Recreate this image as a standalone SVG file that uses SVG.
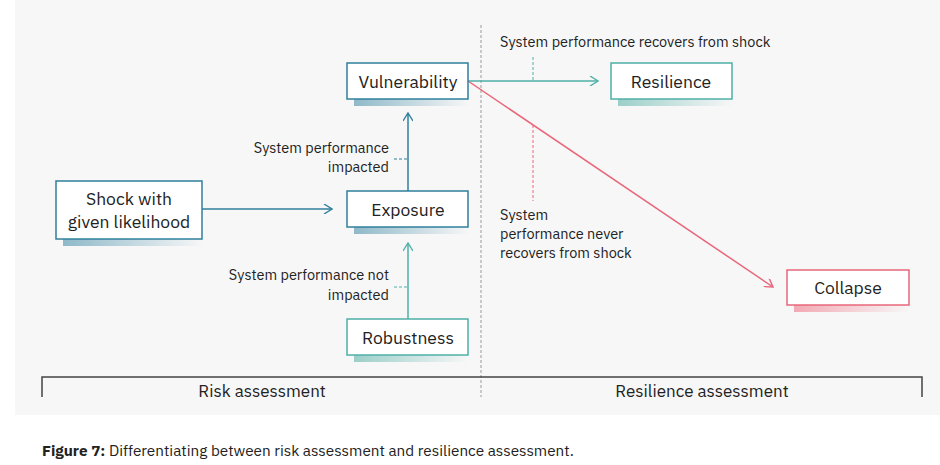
<svg xmlns="http://www.w3.org/2000/svg" width="940" height="465" viewBox="0 0 940 465">
<defs>
<linearGradient id="gb" x1="0" x2="1"><stop offset="0" stop-color="#8fb9c9"/><stop offset="1" stop-color="#8fb9c9" stop-opacity="0"/></linearGradient>
<linearGradient id="gt" x1="0" x2="1"><stop offset="0" stop-color="#9ccfc9"/><stop offset="1" stop-color="#9ccfc9" stop-opacity="0"/></linearGradient>
<linearGradient id="gp" x1="0" x2="1"><stop offset="0" stop-color="#f2aab4"/><stop offset="1" stop-color="#f2aab4" stop-opacity="0"/></linearGradient>
<marker id="ab" viewBox="0 0 10 10" refX="9" refY="5" markerWidth="10" markerHeight="10" markerUnits="userSpaceOnUse" orient="auto"><path d="M1,0 L9,5 L1,10" fill="none" stroke="#2f7f9c" stroke-width="1.4"/></marker>
<marker id="at" viewBox="0 0 10 10" refX="9" refY="5" markerWidth="10" markerHeight="10" markerUnits="userSpaceOnUse" orient="auto"><path d="M1,0 L9,5 L1,10" fill="none" stroke="#4fb0a8" stroke-width="1.4"/></marker>
<marker id="ap" viewBox="0 0 10 10" refX="9" refY="5" markerWidth="10" markerHeight="10" markerUnits="userSpaceOnUse" orient="auto"><path d="M1,0 L9,5 L1,10" fill="none" stroke="#e8677a" stroke-width="1.4"/></marker>
</defs>
<style>
text{font-family:"IBM Plex Sans","Liberation Sans",Arial,sans-serif;fill:#222}
.n{font-size:17.5px;text-anchor:middle}
.l{font-size:14.5px}
.r{text-anchor:end}
.b{fill:#fff;stroke:#2f7f9c;stroke-width:1.5}
.t{fill:#fff;stroke:#4fb0a8;stroke-width:1.5}
.p{fill:#fff;stroke:#e8677a;stroke-width:1.5}
.cb{stroke:#2f7f9c;stroke-width:1.5;fill:none}
.ct{stroke:#4fb0a8;stroke-width:1.5;fill:none}
.cp{stroke:#e8677a;stroke-width:1.5;fill:none}
.d{stroke-dasharray:3,2;stroke-width:1}
</style>
<rect x="0" y="0" width="940" height="465" fill="#fff"/>
<rect x="15" y="0" width="925" height="415" fill="#f7f7f7"/>
<line x1="481" y1="25" x2="481" y2="397" stroke="#999" stroke-width="1" stroke-dasharray="3,2"/>
<g id="axis" stroke="#444" stroke-width="1.5" fill="none">
<path d="M42,397 V377 H922 V397"/>
</g>
<text x="262" y="397" class="n" style="font-size:17px">Risk assessment</text>
<text x="702" y="397" class="n" style="font-size:17px">Resilience assessment</text>
<g id="connectors">
<line x1="202" y1="209" x2="332" y2="209" class="cb" marker-end="url(#ab)"/>
<line x1="408" y1="191" x2="408" y2="113" class="cb" marker-end="url(#ab)"/>
<line x1="408" y1="319" x2="408" y2="243" class="ct" marker-end="url(#at)"/>
<line x1="468" y1="81" x2="598" y2="81" class="ct" marker-end="url(#at)"/>
<line x1="468" y1="81" x2="773" y2="287" class="cp" marker-end="url(#ap)"/>
<line x1="394" y1="159" x2="408" y2="159" class="cb d"/>
<line x1="394" y1="287" x2="408" y2="287" class="ct d"/>
<line x1="533" y1="57" x2="533" y2="81" class="ct d"/>
<line x1="533" y1="125" x2="533" y2="201" class="cp d"/>
</g>
<g id="labels">
<text x="389" y="153" class="l r">System performance</text>
<text x="389" y="172" class="l r">impacted</text>
<text x="389" y="280" class="l r">System performance not</text>
<text x="389" y="300" class="l r">impacted</text>
<text x="500" y="47" class="l">System performance recovers from shock</text>
<text x="500" y="220" class="l">System</text>
<text x="500" y="239" class="l">performance never</text>
<text x="500" y="258" class="l">recovers from shock</text>
</g>
<g id="shock"><rect x="63" y="239" width="140" height="7" fill="url(#gb)"/><rect x="56" y="181" width="146" height="58" class="b"/><text x="129" y="205" class="n">Shock with</text><text x="129" y="228" class="n">given likelihood</text></g>
<g id="vulnerability"><rect x="354" y="99" width="115" height="7" fill="url(#gb)"/><rect x="347" y="63" width="121" height="36" class="b"/><text x="408" y="88" class="n">Vulnerability</text></g>
<g id="exposure"><rect x="354" y="227" width="115" height="7" fill="url(#gb)"/><rect x="347" y="191" width="121" height="36" class="b"/><text x="408" y="216" class="n">Exposure</text></g>
<g id="robustness"><rect x="354" y="355" width="115" height="7" fill="url(#gt)"/><rect x="347" y="319" width="121" height="36" class="t"/><text x="408" y="344" class="n">Robustness</text></g>
<g id="resilience"><rect x="618" y="99" width="115" height="7" fill="url(#gt)"/><rect x="611" y="63" width="121" height="36" class="t"/><text x="671" y="88" class="n">Resilience</text></g>
<g id="collapse"><rect x="794" y="305" width="115" height="7" fill="url(#gp)"/><rect x="787" y="270" width="122" height="35" class="p"/><text x="848" y="294" class="n">Collapse</text></g>
<text x="42" y="456" style="font-size:15.3px"><tspan font-weight="bold">Figure 7:</tspan> Differentiating between risk assessment and resilience assessment.</text>
</svg>
